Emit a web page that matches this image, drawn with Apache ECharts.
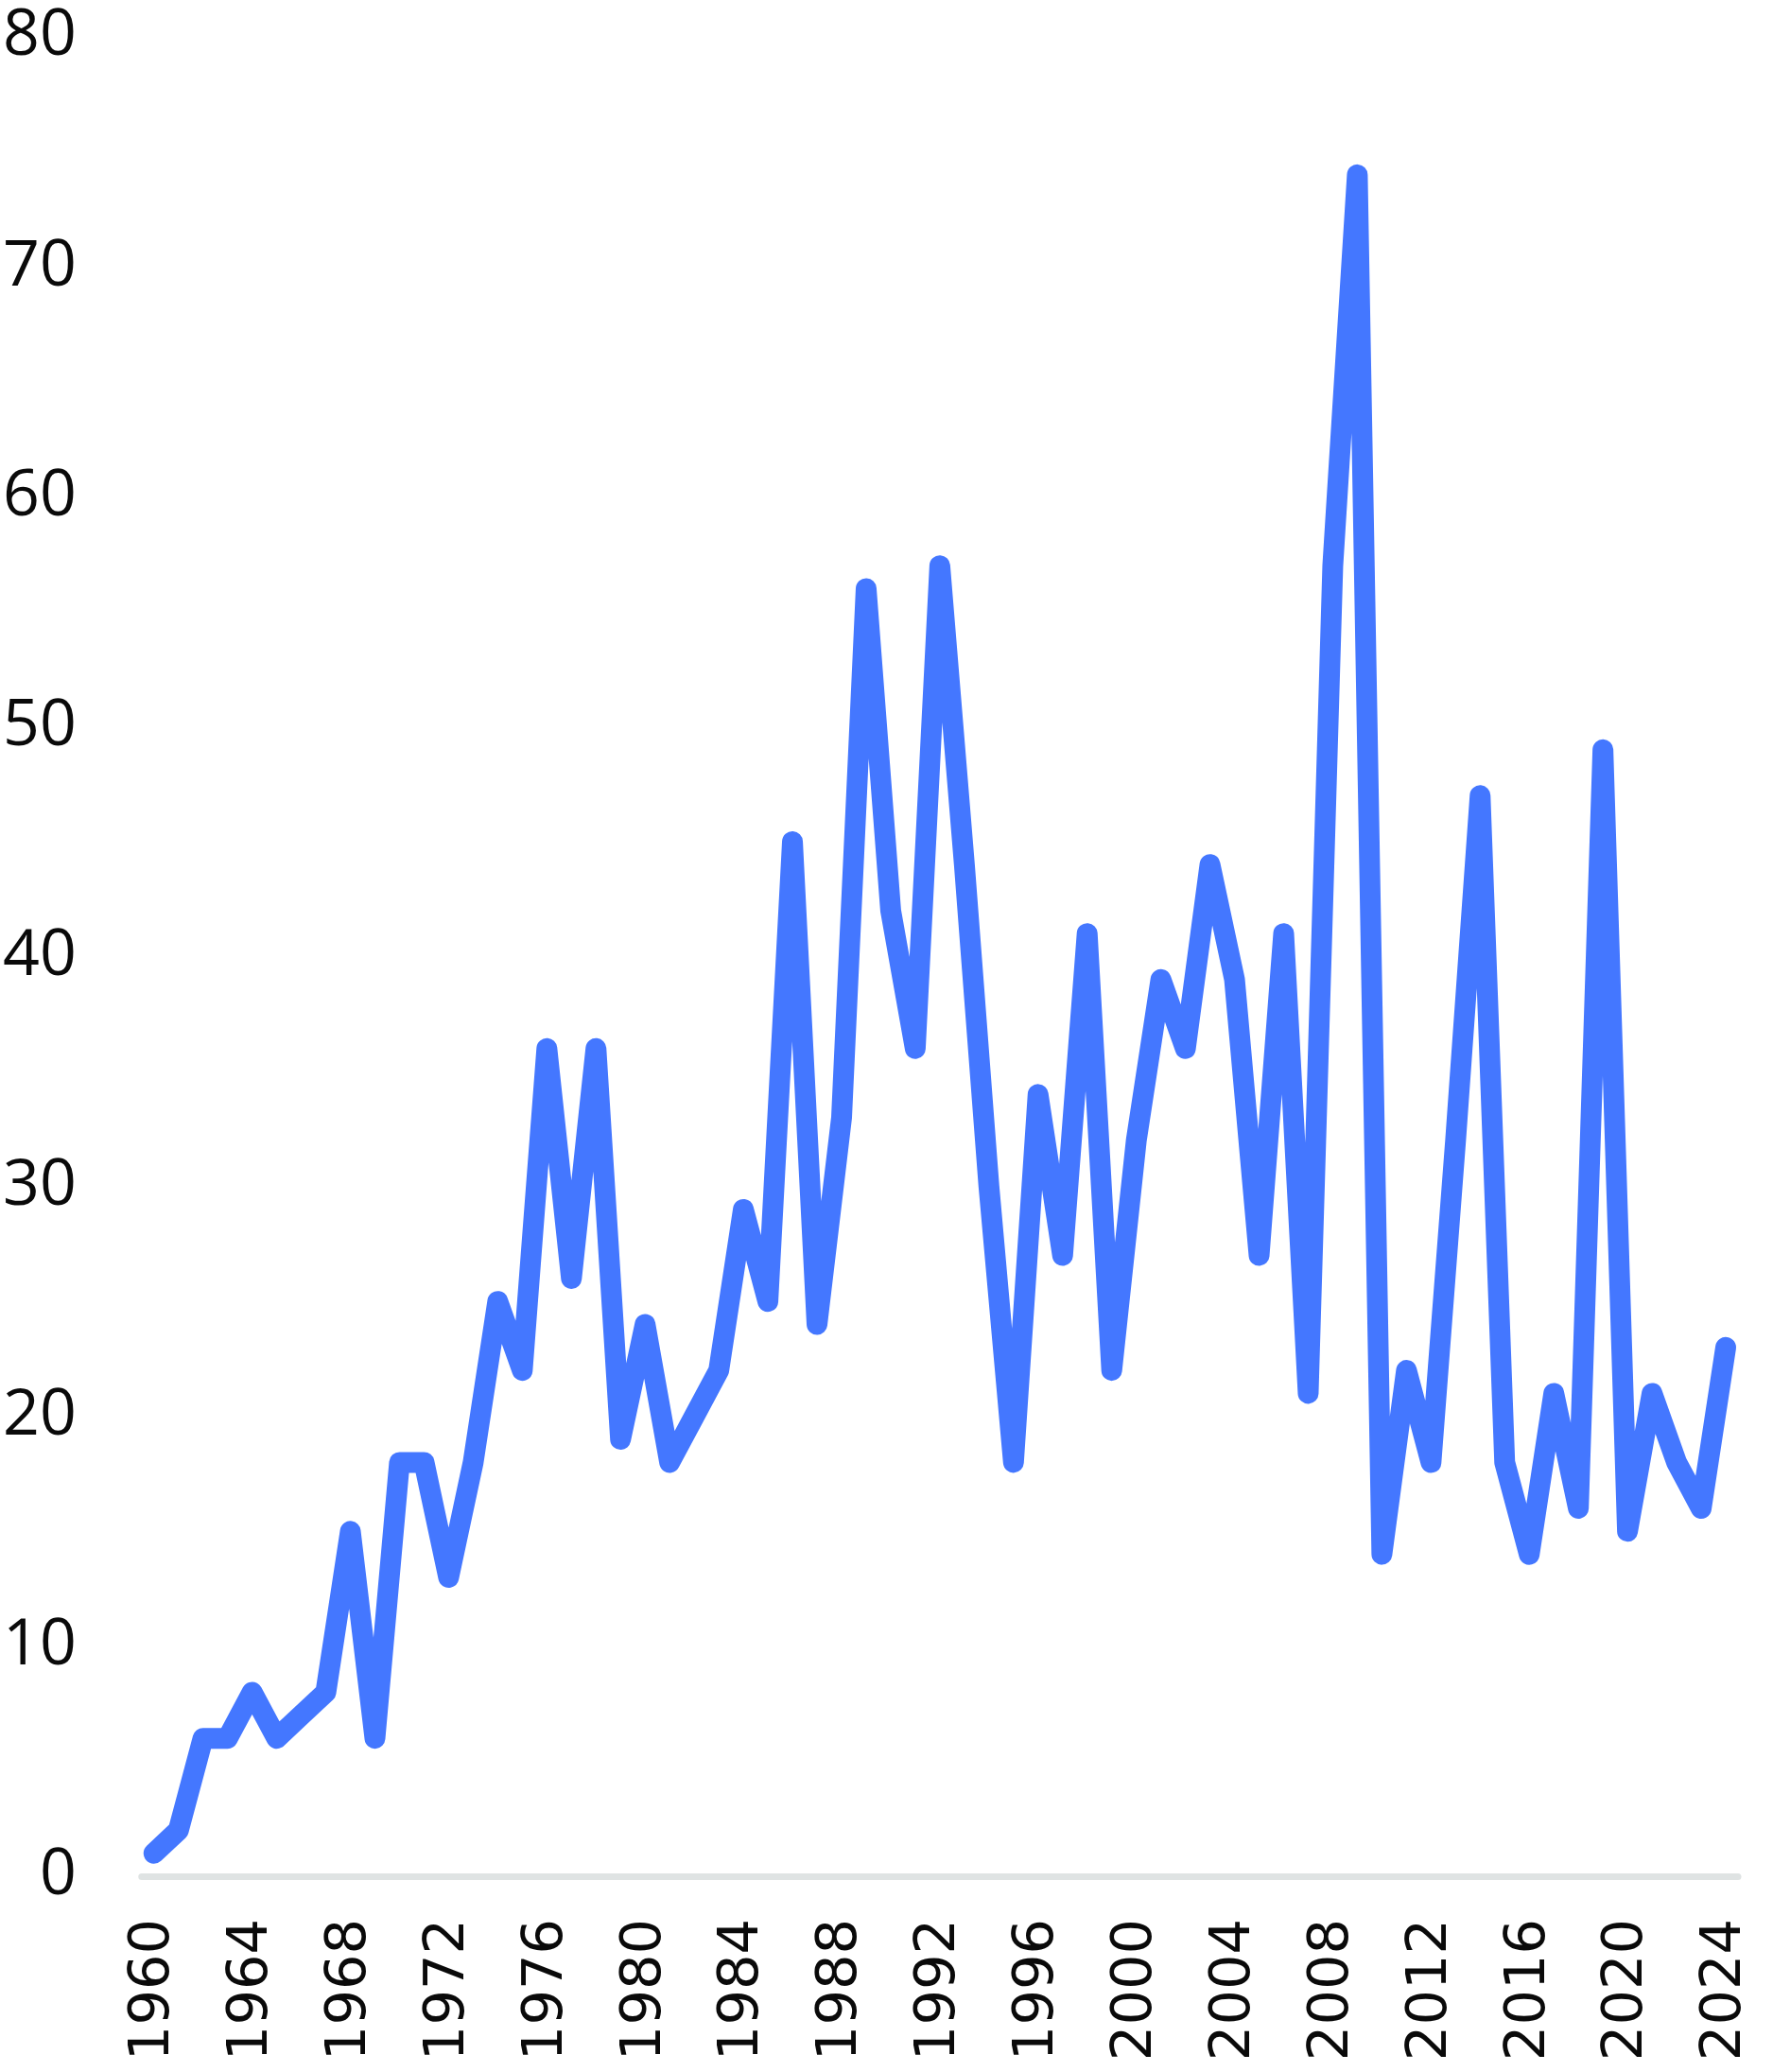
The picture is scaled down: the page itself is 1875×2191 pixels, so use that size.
<!DOCTYPE html>
<html>
<head>
<meta charset="utf-8">
<script src="https://cdn.jsdelivr.net/npm/echarts@6/dist/echarts.min.js"></script>
<style>
  html, body { margin: 0; padding: 0; background: #fff; }
  #chart { width: 1875px; height: 2191px; }
</style>
</head>
<body>
<div id="chart"></div>
<script>
// years on the x axis
const years = [
  1960, 1961, 1962, 1963, 1964, 1965, 1966, 1967, 1968, 1969,
  1970, 1971, 1972, 1973, 1974, 1975, 1976, 1977, 1978, 1979,
  1980, 1981, 1982, 1983, 1984, 1985, 1986, 1987, 1988, 1989,
  1990, 1991, 1992, 1993, 1994, 1995, 1996, 1997, 1998, 1999,
  2000, 2001, 2002, 2003, 2004, 2005, 2006, 2007, 2008, 2009,
  2010, 2011, 2012, 2013, 2014, 2015, 2016, 2017, 2018, 2019,
  2020, 2021, 2022, 2023, 2024
]
// value per year
const values = [
  1, 2, 6, 6, 8, 6, 7, 8, 15, 6,
  18, 18, 13, 18, 25, 22, 36, 26, 36, 19,
  24, 18, 20, 22, 29, 25, 45, 24, 33, 56,
  42, 36, 57, 44, 30, 18, 34, 27, 41, 22,
  32, 39, 36, 44, 39, 27, 41, 21, 57, 74,
  14, 22, 18, 32, 47, 18, 14, 21, 16, 49,
  15, 21, 18, 16, 23
]
// y axis ticks
const yMin = 0
const yMax = 80
const yStep = 10

const myChart = echarts.init(document.getElementById('chart'))
const option = {
  animation: false,
  grid: {
    left: 149,
    right: 37,
    top: 39,
    bottom: 207
  },
  xAxis: {
    type: 'category',
    data: years.map(String),
    boundaryGap: true,
    axisLine: {
      show: true,
      lineStyle: { color: '#dfe3e3', width: 7 }
    },
    axisTick: { show: false },
    axisLabel: {
      interval: 3,
      rotate: 90,
      margin: 45,
      color: '#0a0a0a',
      fontFamily: 'DejaVu Sans',
      fontSize: 59
    },
    splitLine: { show: false }
  },
  yAxis: {
    type: 'value',
    min: yMin,
    max: yMax,
    interval: yStep,
    axisLine: { show: false },
    axisTick: { show: false },
    splitLine: { show: false },
    axisLabel: {
      margin: 69,
      color: '#0a0a0a',
      fontFamily: 'Open Sans',
      fontSize: 68
    }
  },
  series: [{
    type: 'line',
    data: values,
    symbol: 'none',
    smooth: false,
    lineStyle: {
      color: '#4477ff',
      width: 22,
      cap: 'round',
      join: 'round'
    }
  }]
}
myChart.setOption(option)
</script>
</body>
</html>
